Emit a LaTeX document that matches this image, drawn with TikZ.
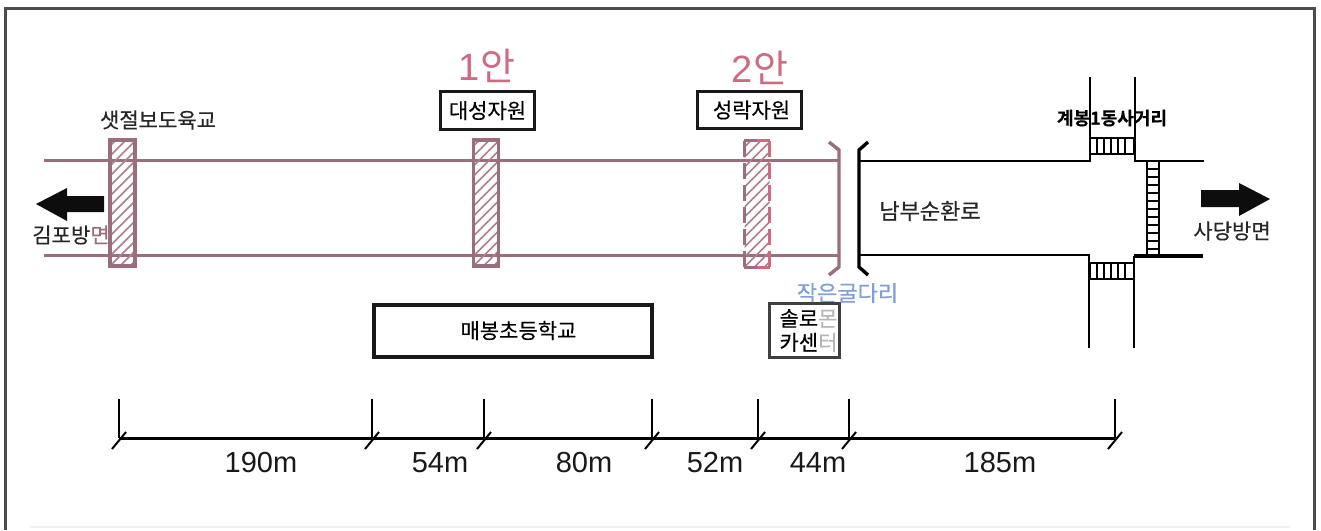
\documentclass[tikz,border=0pt]{standalone}
\usepackage{fontspec}
\setmainfont[FakeBold=0.35,BoldFont={Noto Sans CJK KR Bold}]{Noto Sans CJK KR}
\newfontfamily\plainf{Noto Sans CJK KR}
\newfontfamily\latinf{Liberation Sans}
\definecolor{mauve}{HTML}{9A6E7E}
\definecolor{pinkred}{HTML}{CF6A80}
\definecolor{hatchc}{HTML}{AD7F8E}
\definecolor{bluetxt}{HTML}{7F9FD6}
\definecolor{paletx}{HTML}{B9B4BC}
\newcommand{\fsz}[1]{\fontsize{#1}{#1}\selectfont}
\tikzset{
  x=1pt,y=-1pt,
  lab/.style={inner sep=0pt,font=\fsz{21},text=black!85},
  dimlab/.style={inner sep=0pt,font=\latinf\fsz{29},text=black!90},
  framebox/.style={draw=black!90,line width=3.5pt,fill=white,inner sep=0pt,font=\fsz{21},align=center},
  hatchbox/.style={inner sep=0pt,minimum width=25pt,minimum height=126pt,
    path picture={\foreach \i in {-130,-120,...,30}{\draw[hatchc,line width=1.5pt]
      ([xshift=\i pt]path picture bounding box.south west) -- ++(140pt,140pt);}}},
  roadl/.style={mauve,line width=3pt},
  blk/.style={black,line width=2.2pt},
  dim/.style={black,line width=3pt},
  arrowshape/.style={fill=black!95,draw=none},
}
\begin{document}
\begin{tikzpicture}
\useasboundingbox (0,0) rectangle (1321,530);
\fill[white] (0,0) rectangle (1321,530);
% frame
\draw[black!70,line width=3pt] (5,530) -- (5,8) -- (1314,8) -- (1314,530);
\draw[black!6,line width=2pt] (30,527) -- (1290,527);
% road (mauve part)
\coordinate (rtl) at (44,160); \coordinate (rtr) at (838,160);
\coordinate (rbl) at (44,255); \coordinate (rbr) at (838,255);
\draw[roadl] (rtl) -- (rtr);
\draw[roadl] (rbl) -- (rbr);
\draw[mauve,line width=3.4pt] (829,142) -- (839,150) -- (839,267) -- (829,275);
% hatched bars
\node[hatchbox,draw=mauve,line width=3.4pt] (b1) at (122.5,203) {};
\node[hatchbox,draw=mauve,line width=3.4pt] (b2) at (486,203) {};
\node[hatchbox] (b3) at (757,204) {};
\draw[mauve,line width=3.4pt,dash pattern=on 16pt off 6pt] (b3.north west) -- (b3.south west);
\draw[pinkred,line width=3.4pt,dash pattern=on 16pt off 6pt] (b3.north east) -- (b3.south east);
\draw[pinkred,line width=3pt] (b3.north) -- (b3.north east);
\draw[pinkred,line width=3pt] (b3.south) -- (b3.south east);
\draw[mauve,line width=3pt] (b3.north west) -- (b3.north);
\draw[mauve,line width=3pt] (b3.south west) -- (b3.south);
% road (black part)
\draw[black,line width=3.4pt] (868,142) -- (859,150) -- (859,267) -- (868,275);
\coordinate (a1) at (859,161); \coordinate (a2) at (1090,161); \coordinate (a3) at (1090,77);
\coordinate (a4) at (1135,77); \coordinate (a5) at (1135,161); \coordinate (a6) at (1204,161);
\coordinate (c1) at (859,255); \coordinate (c2) at (1089,255); \coordinate (c3) at (1089,348);
\coordinate (c4) at (1134,348); \coordinate (c5) at (1134,256); \coordinate (c6) at (1203,256);
\draw[blk] (a3) -- (a2) -- (a1);
\draw[blk] (a4) -- (a5) -- (a6);
\draw[blk] (c1) -- (c2) -- (c3);
\draw[blk] (c4) -- (c5);
\draw[black,line width=3.4pt] (c5) -- (c6);
% crosswalks
\draw[black,line width=2pt,fill=white] (1090,138) rectangle (1134,154);
\foreach \x in {1097,1104,...,1129}{\draw[black,line width=2.4pt] (\x,138) -- (\x,154);}
\draw[black,line width=2pt,fill=white] (1090,263) rectangle (1134,279);
\foreach \x in {1097,1104,...,1129}{\draw[black,line width=2.4pt] (\x,263) -- (\x,279);}
\draw[black,line width=2pt] (1147,161) rectangle (1159,255);
\foreach \y in {169,177,...,250}{\draw[black,line width=2.4pt] (1147,\y) -- (1159,\y);}
% arrows
\fill[arrowshape] (36,204) -- (67,188) -- (67,196) -- (104,196) -- (104,212) -- (67,212) -- (67,221) -- cycle;
\fill[arrowshape] (1270,199) -- (1239,183) -- (1239,190) -- (1201,190) -- (1201,207) -- (1239,207) -- (1239,216) -- cycle;
% labels
\node[lab] (t1) at (158,120) {샛절보도육교};
\node[lab] (t2) at (71,235) {김포방\textcolor{mauve}{면}};
\node[lab,font=\fsz{22}] (t3) at (930,211) {남부순환로};
\node[lab] (t4) at (1232,231) {사당방면};
\node[lab,font=\bfseries\fsz{18},text=black] (t5) at (1112,118) {계봉1동사거리};
\node[inner sep=0pt,text=pinkred,font=\plainf\fsz{38}] (p1) at (487,66) {{\latinf 1}안};
\node[inner sep=0pt,text=pinkred,font=\plainf\fsz{38}] (p2) at (760,68) {{\latinf 2}안};
\node[framebox,minimum width=94pt,minimum height=38pt] (n1) at (487.5,110.5) {대성자원};
\node[framebox,minimum width=104pt,minimum height=37pt] (n2) at (749.5,110) {\hspace*{4pt}성락자원};
\node[framebox,line width=4pt,minimum width=278pt,minimum height=52pt] (n3) at (512.5,330.5) {\hspace*{12pt}매봉초등학교};
\node[inner sep=0pt,font=\fsz{22},text=bluetxt] (t6) at (847.5,293) {작은굴다리};
\node[framebox,draw=black!75,line width=3pt,minimum width=70pt,minimum height=54pt,font=\fontsize{21}{24}\selectfont] (n4) at (804.5,330.5)
  {\hspace*{8pt}솔로\textcolor{paletx}{몬}\\\hspace*{8pt}카센\textcolor{paletx}{터}};
% dimension line
\foreach \n/\x in {d0/119,d1/372,d2/484,d3/652,d4/758,d5/849,d6/1115}{
  \coordinate (\n) at (\x,438);
  \coordinate (\n top) at (\x,399);
  \coordinate (\n sa) at (\x-7,449);
  \coordinate (\n sb) at (\x+7,432);
  \draw[black,line width=2.4pt] (\n top) -- (\n);
  \draw[black,line width=2pt] (\n sa) -- (\n sb);
}
\draw[dim] (d0) -- (d6);
\node[dimlab] (m1) at (261,463) {190m};
\node[dimlab] (m2) at (440,463) {54m};
\node[dimlab] (m3) at (584,463) {80m};
\node[dimlab] (m4) at (715,463) {52m};
\node[dimlab] (m5) at (818,463) {44m};
\node[dimlab] (m6) at (1000,463) {185m};
\end{tikzpicture}
\end{document}
